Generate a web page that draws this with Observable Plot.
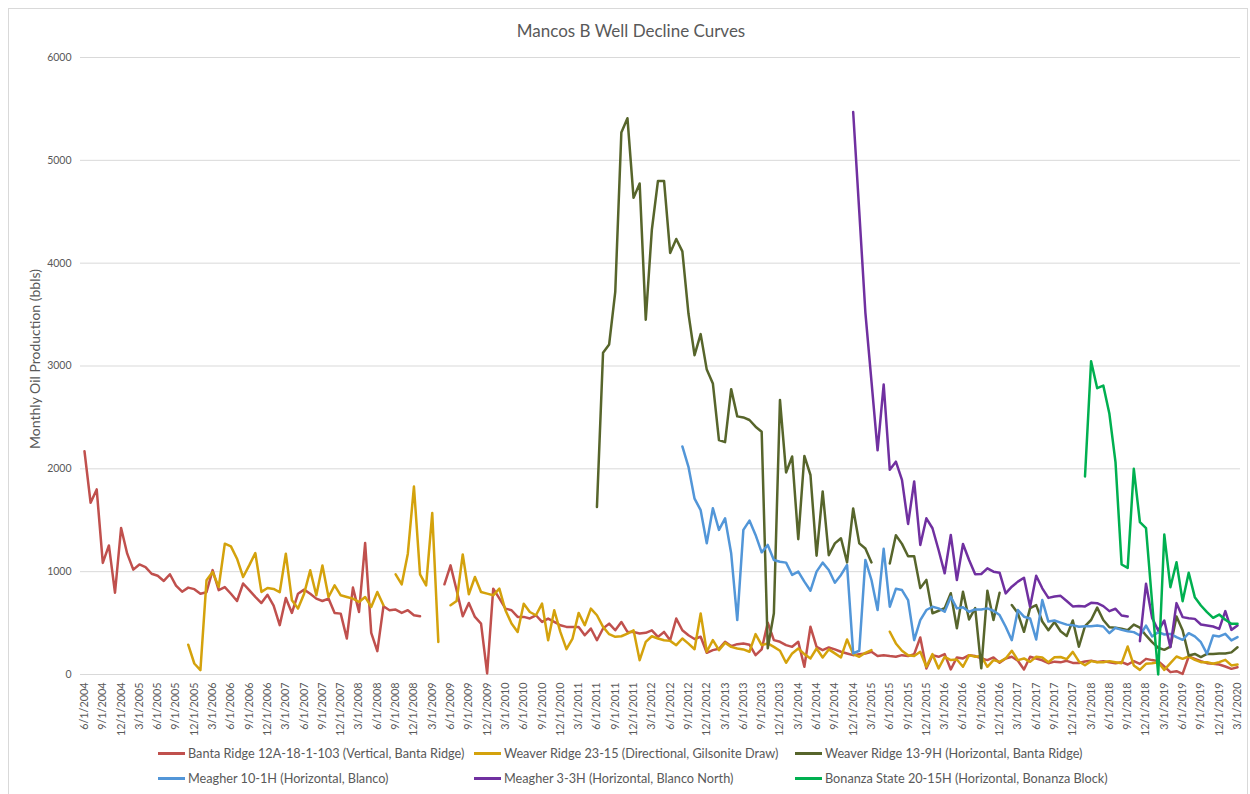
<!DOCTYPE html>
<html>
<head>
<meta charset="utf-8">
<script src="https://cdn.jsdelivr.net/npm/d3@7"></script>
<script src="https://cdn.jsdelivr.net/npm/@observablehq/plot@0.6"></script>
<style>
  body { margin: 0; background: #fff; font-family: Lato, "Open Sans", sans-serif; }
  #wrap { position: relative; width: 1250px; height: 794px; overflow: hidden; background: #fff; }
  #frame { position: absolute; left: 8px; top: 8px; width: 1240px; height: 790px; border: 1px solid #d9d9d9; box-sizing: border-box; }
  #title { position: absolute; left: 0; top: 20px; width: 1262px; text-align: center; font-size: 17px; line-height: 22px; color: #595959; }
  #chart { position: absolute; left: 0; top: 40px; }
  .leg { position: absolute; display: flex; align-items: center; font-size: 12.7px; color: #595959; white-space: nowrap; height: 20px; }
  .leg .sw { width: 27px; height: 3px; margin-right: 3px; }
</style>
</head>
<body>
<div id="wrap">
  <div id="frame"></div>
  <div id="title"></div>
  <div id="chart"></div>
  <div id="legend"></div>
</div>
<script>
const chartTitle = "Mancos B Well Decline Curves";
const yLabel = "Monthly Oil Production (bbls)";

// Quarterly category labels (every 3rd month, month 0 = 6/1/2004)
const tickLabels = [
  "6/1/2004","9/1/2004","12/1/2004",
  "3/1/2005","6/1/2005","9/1/2005","12/1/2005",
  "3/1/2006","6/1/2006","9/1/2006","12/1/2006",
  "3/1/2007","6/1/2007","9/1/2007","12/1/2007",
  "3/1/2008","6/1/2008","9/1/2008","12/1/2008",
  "3/1/2009","6/1/2009","9/1/2009","12/1/2009",
  "3/1/2010","6/1/2010","9/1/2010","12/1/2010",
  "3/1/2011","6/1/2011","9/1/2011","12/1/2011",
  "3/1/2012","6/1/2012","9/1/2012","12/1/2012",
  "3/1/2013","6/1/2013","9/1/2013","12/1/2013",
  "3/1/2014","6/1/2014","9/1/2014","12/1/2014",
  "3/1/2015","6/1/2015","9/1/2015","12/1/2015",
  "3/1/2016","6/1/2016","9/1/2016","12/1/2016",
  "3/1/2017","6/1/2017","9/1/2017","12/1/2017",
  "3/1/2018","6/1/2018","9/1/2018","12/1/2018",
  "3/1/2019","6/1/2019","9/1/2019","12/1/2019",
  "3/1/2020"
];
const yTicks = [0, 1000, 2000, 3000, 4000, 5000, 6000];

const seriesNames = [
  "Banta Ridge 12A-18-1-103 (Vertical, Banta Ridge)",
  "Weaver Ridge 23-15 (Directional, Gilsonite Draw)",
  "Weaver Ridge 13-9H (Horizontal, Banta Ridge)",
  "Meagher 10-1H (Horizontal, Blanco)",
  "Meagher 3-3H (Horizontal, Blanco North)",
  "Bonanza State 20-15H (Horizontal, Bonanza Block)"
];
const seriesColors = ["#c0504d", "#d4a20c", "#57652b", "#5296d8", "#7030a0", "#00b050"];

// First month index of each series (0 = 6/1/2004)
const seriesStart = [0, 17, 84, 98, 126, 164];

// Monthly oil production (bbls); null = no report
const bantaRidge = [
  2170,1670,1800,1085,1255,795,1425,1175,1020,1070,
  1045,980,960,910,975,865,805,845,830,785,
  800,1015,820,850,785,715,885,820,755,695,
  775,670,480,744,599,786,825,786,738,715,
  738,599,592,350,845,608,1278,405,227,663,
  625,631,599,625,576,566,null,null,null,877,
  1061,819,566,696,560,495,10,835,740,641,
  625,560,560,545,576,511,544,511,479,463,
  463,463,382,447,333,447,495,430,511,414,
  414,398,405,430,366,414,333,544,430,382,
  345,367,211,237,250,318,276,295,302,290,
  188,244,503,334,318,286,269,318,75,464,
  269,237,263,244,221,205,188,198,205,221,
  179,188,179,172,188,179,198,360,58,188,
  172,198,49,166,156,188,179,156,140,166,
  114,156,172,133,49,172,156,138,110,125,
  118,133,113,112,127,135,122,130,120,110,
  120,97,130,104,152,140,130,78,23,32,
  6,175,152,130,110,104,97,78,55,71
];
const weaverRidge2315 = [
  290,107,42,
  916,997,851,1272,1246,1126,948,1061,1181,803,
  841,832,800,1175,722,641,786,1013,770,1061,
  754,867,770,754,738,705,754,657,803,673,
  null,974,877,1175,1828,974,867,1570,317,null,
  673,715,1168,780,948,803,786,770,835,625,
  495,414,689,608,576,689,333,625,414,246,
  350,599,479,641,576,463,392,366,372,398,
  430,139,317,372,350,333,327,285,350,300,
  246,593,221,334,237,308,269,253,244,221,
  393,286,302,269,231,114,205,253,198,156,
  253,166,244,205,166,341,198,172,211,237,
  null,null,416,302,231,188,179,221,75,198,
  58,172,140,146,75,188,172,179,75,140,
  123,156,231,140,156,123,172,165,120,167,
  170,150,220,127,90,130,120,120,130,120,
  110,272,88,45,104,110,120,45,110,175,
  152,175,143,120,120,104,120,143,88,97
];
const weaverRidge139H = [
  1630,3130,3210,3720,5270,5410,
  4635,4775,3450,4325,4800,4800,4100,4235,4115,3510,
  3105,3310,2965,2830,2280,2260,2775,2510,2500,2475,
  2410,2360,255,595,2670,1965,2120,1315,2125,1940,
  1155,1780,1160,1275,1325,1090,1615,1275,1225,1090,
  null,null,1080,1355,1270,1150,1150,840,920,595,
  620,645,790,450,805,535,645,60,815,530,
  795,null,675,595,415,645,675,515,430,510,
  420,375,525,270,470,530,650,530,460,455,
  445,430,485,455,380,315,260,240,270,565,
  430,185,200,170,200,200,205,205,215,265
];
const meagher101H = [
  2218,2020,
  1710,1598,1276,1617,1406,1519,1179,529,1406,1497,
  1357,1188,1260,1114,1097,1088,968,1000,903,815,
  1000,1088,1016,893,968,1065,205,231,1114,919,
  627,1222,659,833,821,724,334,529,627,659,
  643,610,756,643,653,610,633,633,643,620,
  578,464,334,627,562,545,341,724,515,525,
  505,485,480,465,470,470,476,467,402,454,
  434,421,412,379,476,370,412,389,395,363,
  337,402,370,314,201,379,370,395,331,363
];
const meagher33H = [
  5470,4500,3520,2850,
  2180,2820,1990,2070,1893,1464,1877,1260,1519,1422,
  1211,984,1357,919,1269,1114,974,977,1032,1000,
  990,789,854,903,941,659,961,838,745,758,
  765,715,662,665,662,697,693,665,616,639,
  574,564,null,324,882,551,428,525,266,694,
  558,548,541,486,476,467,444,616,434,476
];
const bonanzaState2015H = [
  1925,3047,2784,2810,2535,2065,
  1070,1037,2000,1481,1423,700,0,1361,849,1092,
  713,989,752,671,606,551,583,532,493,493
];

const seriesValues = [bantaRidge, weaverRidge2315, weaverRidge139H, meagher101H, meagher33H, bonanzaState2015H];

const rows = seriesValues.flatMap((vals, s) =>
  vals.map((v, j) => ({month: seriesStart[s] + j, value: v, series: seriesNames[s]}))
);
const tickMonths = tickLabels.map((_, k) => k * 3);

document.getElementById("title").textContent = chartTitle;

const chart = Plot.plot({
  width: 1250,
  height: 706,
  marginLeft: 80,
  marginRight: 10,
  marginTop: 17,
  marginBottom: 72,
  style: {fontFamily: "Lato, 'Open Sans', sans-serif", fontSize: "10.5px", color: "#595959", background: "transparent"},
  x: {type: "linear", domain: [-0.656, 189.49]},
  y: {domain: [0, 6000]},
  color: {domain: seriesNames, range: seriesColors},
  marks: [
    Plot.gridY(yTicks, {stroke: "#d9d9d9", strokeOpacity: 1, strokeWidth: 1}),
    Plot.axisY({ticks: yTicks, tickSize: 0, tickPadding: 9, tickFormat: d3.format("d"), label: null, fontSize: 10.5}),
    Plot.axisX({ticks: tickMonths, tickFormat: m => tickLabels[m / 3], tickRotate: -90, tickSize: 0, tickPadding: 8, label: null, fontSize: 10.8}),
    Plot.text([yLabel], {frameAnchor: "left", dx: -45, dy: -7, rotate: -90, textAnchor: "middle", text: d => d, fontSize: 14, fill: "#595959"}),
    Plot.lineY(rows, {x: "month", y: "value", z: "series", stroke: "series", strokeWidth: 2.5, strokeLinejoin: "round"})
  ]
});
document.getElementById("chart").appendChild(chart);

const legend = document.getElementById("legend");
const legLeft = [158, 474, 795];
const legTop = [743, 768];
seriesNames.forEach((name, i) => {
  const item = document.createElement("div");
  item.className = "leg";
  item.style.left = legLeft[i % 3] + "px";
  item.style.top = legTop[Math.floor(i / 3)] + "px";
  const sw = document.createElement("span");
  sw.className = "sw";
  sw.style.background = seriesColors[i];
  const tx = document.createElement("span");
  tx.textContent = name;
  item.appendChild(sw);
  item.appendChild(tx);
  legend.appendChild(item);
});
</script>
</body>
</html>
